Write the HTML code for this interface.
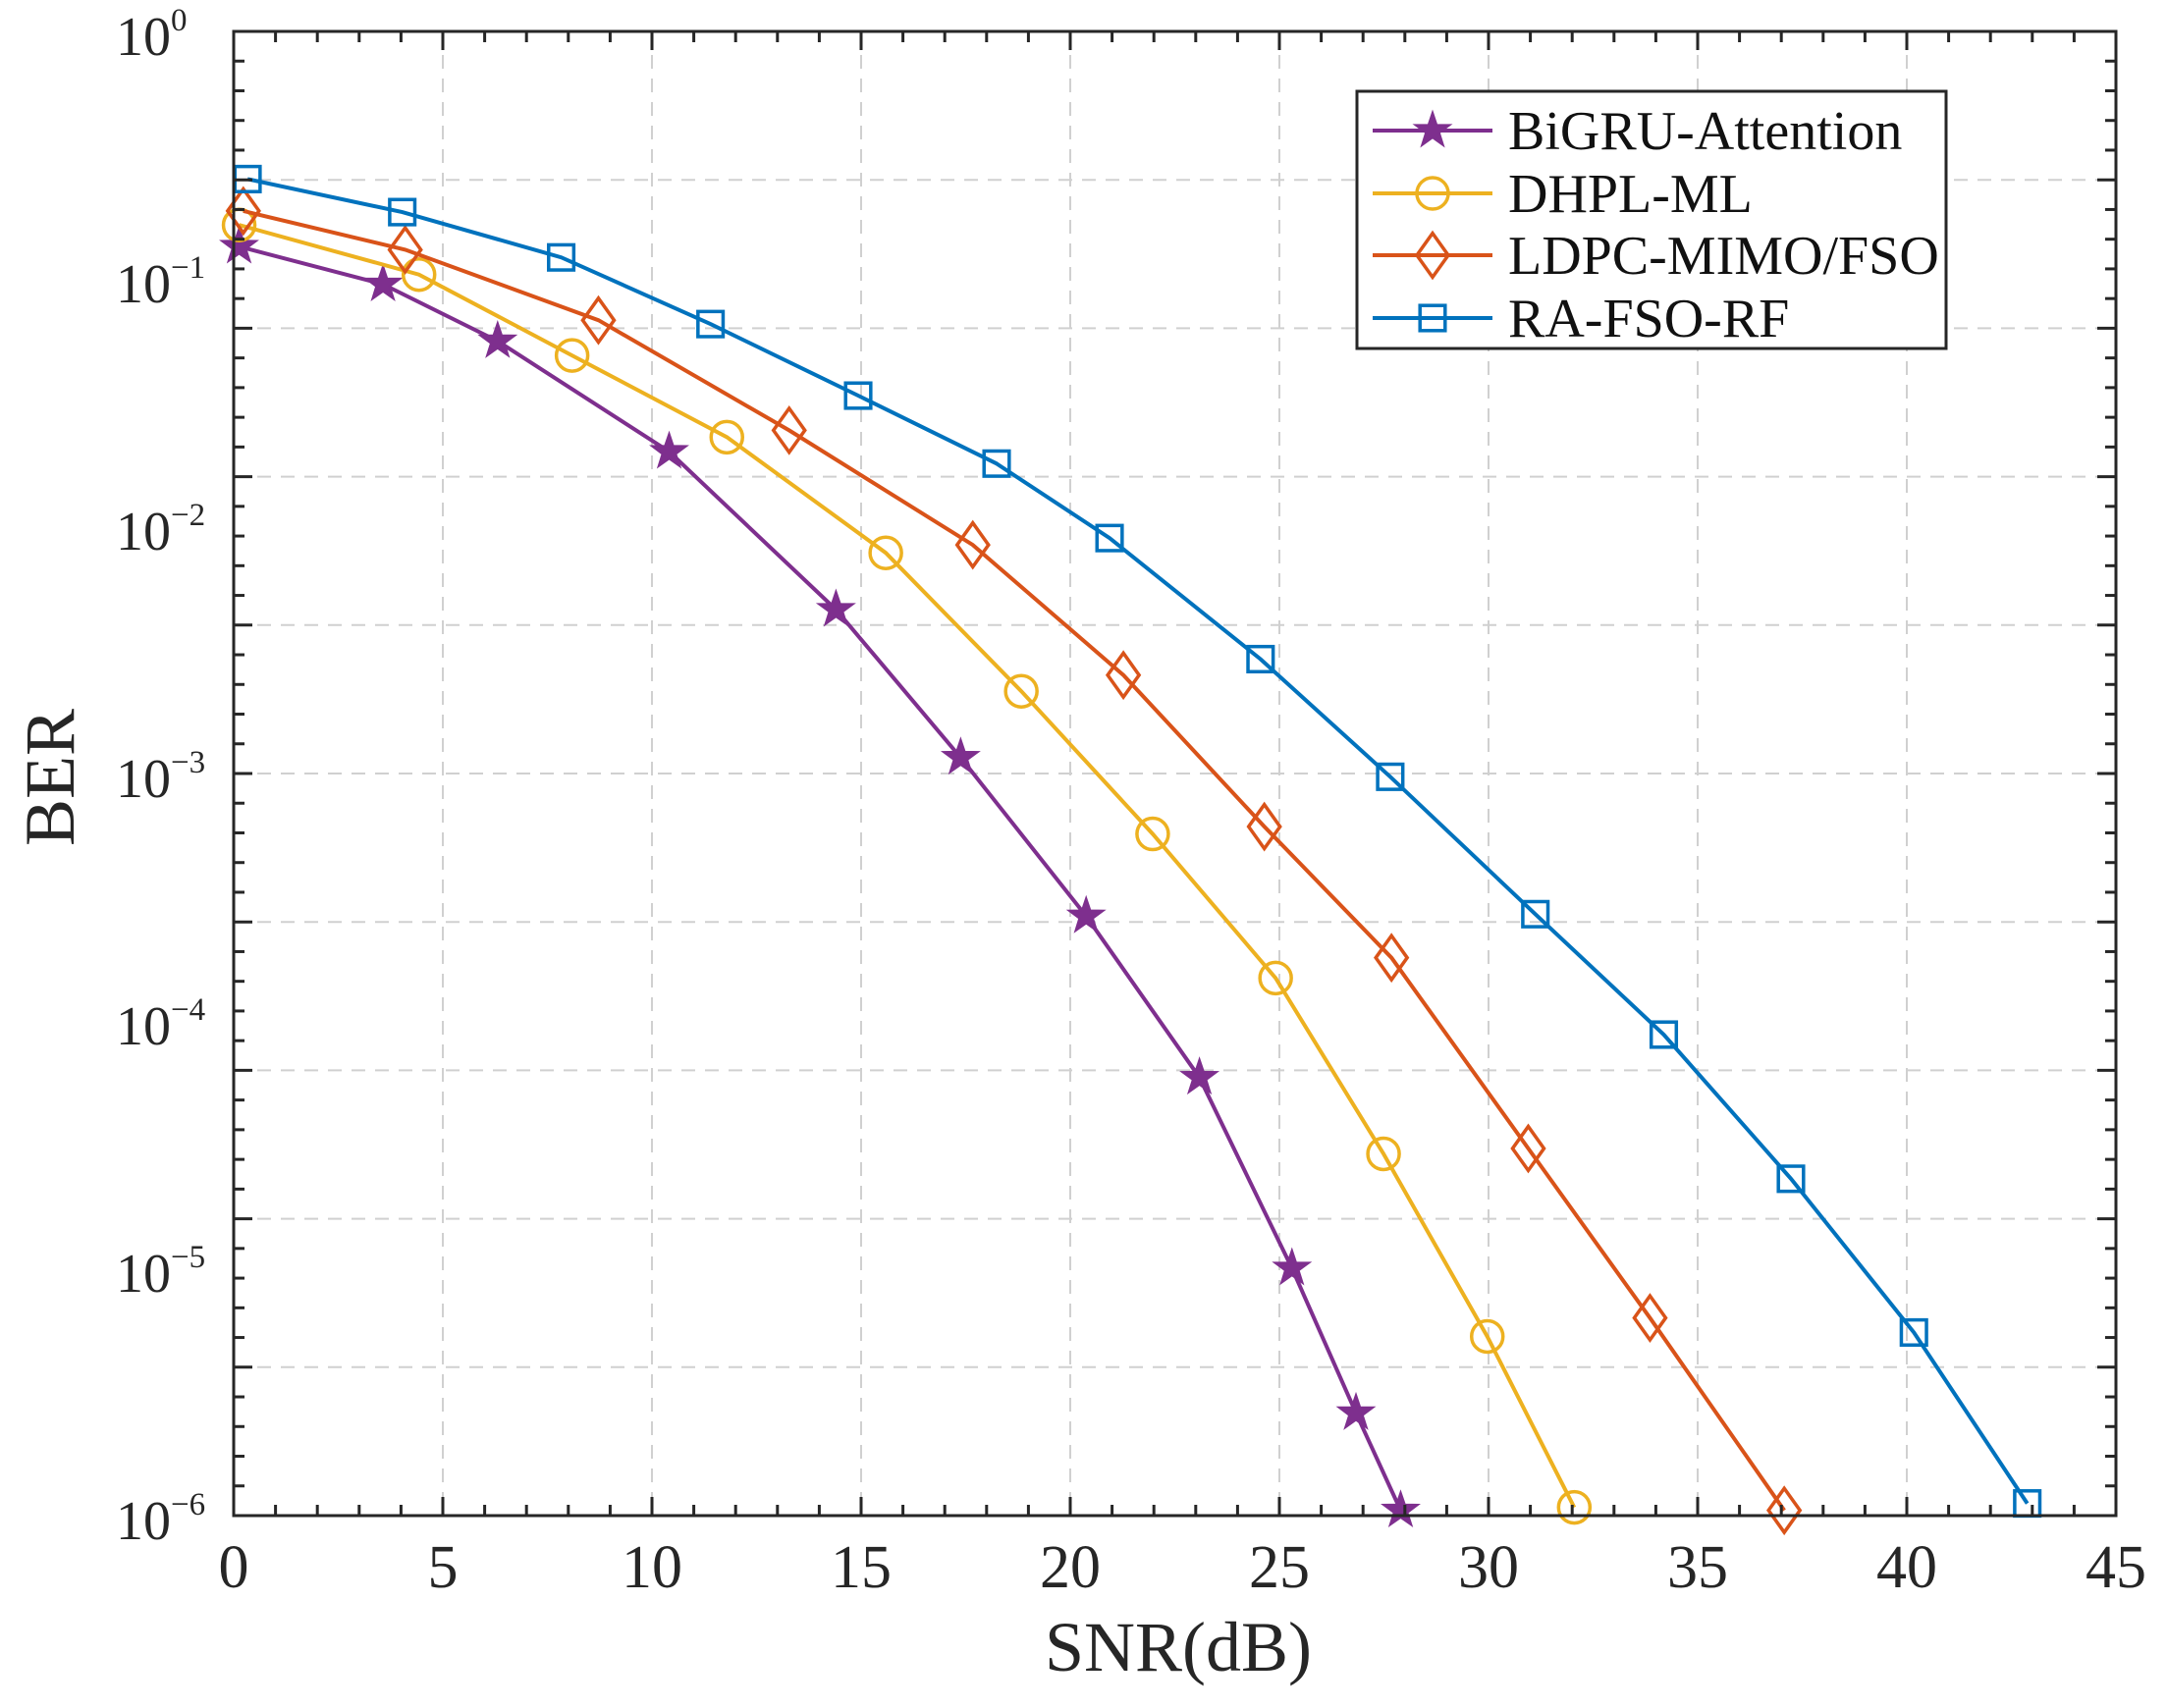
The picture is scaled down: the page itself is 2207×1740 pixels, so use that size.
<!DOCTYPE html>
<html><head><meta charset="utf-8"><style>
html,body{margin:0;padding:0;background:#fff}
svg{display:block;font-family:"Liberation Serif",serif}
</style></head><body>
<svg id="chart" width="2207" height="1740" viewBox="0 0 2207 1740" xmlns="http://www.w3.org/2000/svg">
<rect width="2207" height="1740" fill="#fff"/>
<g id="grid"></g><g id="series"></g><g id="axes"></g><g id="legend"></g>
</svg>
<script>
const seriesNames = ["BiGRU-Attention","DHPL-ML","LDPC-MIMO/FSO","RA-FSO-RF"];
const bigruX = [0.13,3.57,6.31,10.41,14.4,17.38,20.38,23.09,25.3,26.83,27.9];
const bigruY = [0.135,0.095,0.056,0.020,0.0046,1.16e-3,2.65e-4,5.9e-5,1.0e-5,2.6e-6,1.05e-6];
const dhplX = [0.13,4.43,8.09,11.79,15.59,18.83,21.97,24.91,27.49,29.97,32.05];
const dhplY = [0.165,0.104,0.049,0.0229,7.8e-3,2.15e-3,5.7e-4,1.49e-4,2.9e-5,5.3e-6,1.08e-6];
const ldpcX = [0.23,4.1,8.72,13.28,17.67,21.27,24.64,27.68,30.95,33.86,37.07];
const ldpcY = [0.188,0.131,0.068,0.0244,8.4e-3,2.5e-3,6.1e-4,1.8e-4,3.05e-5,6.3e-6,1.05e-6];
const raX = [0.33,4.03,7.83,11.4,14.93,18.24,20.94,24.55,27.65,31.12,34.19,37.23,40.17,42.88];
const raY = [0.253,0.186,0.122,0.0656,0.0337,0.0179,8.95e-3,2.9e-3,9.7e-4,2.7e-4,8.8e-5,2.3e-5,5.5e-6,1.12e-6];
const xTicks = [0,5,10,15,20,25,30,35,40,45];
const yTickExps = [0,-1,-2,-3,-4,-5,-6];

const NS="http://www.w3.org/2000/svg";
const L=238,R=2155,T=32,B=1544;
const xs=v=>L+(v/45)*(R-L);
const ys=v=>T+(-Math.log10(v)/6)*(B-T);
function mk(tag,attrs,parent){const e=document.createElementNS(NS,tag);for(const k in attrs)e.setAttribute(k,attrs[k]);parent.appendChild(e);return e;}
const grid=document.getElementById('grid'),axes=document.getElementById('axes'),ser=document.getElementById('series'),leg=document.getElementById('legend');

xTicks.forEach(t=>{if(t>0&&t<45){const g=mk('line',{x1:xs(t),x2:xs(t),y1:T,y2:B,stroke:'#d0d0d0','stroke-width':2,'stroke-dasharray':'14,10'},grid);

}});
for(let i=1;i<10;i++){const y=T+i*(B-T)/10;const g=mk('line',{x1:L,x2:R,y1:y,y2:y,stroke:'#d0d0d0','stroke-width':2,'stroke-dasharray':'14,10'},grid);

}

const box=mk('rect',{x:L,y:T,width:R-L,height:B-T,fill:'none',stroke:'#262626','stroke-width':3},axes);


for(let v=0;v<=45;v++){const len=(v%5===0)?19:11;const x=xs(v);
mk('line',{x1:x,x2:x,y1:B,y2:B-len,stroke:'#262626','stroke-width':3},axes);
mk('line',{x1:x,x2:x,y1:T,y2:T+len,stroke:'#262626','stroke-width':3},axes);}
xTicks.forEach(t=>{const tx=mk('text',{x:xs(t),y:B+73,'text-anchor':'middle','font-size':62,fill:'#262626'},axes);tx.textContent=t;

});
for(let i=0;i<=50;i++){const y=T+i*(B-T)/50;const len=(i%5===0)?19:11;
mk('line',{x1:L,x2:L+len,y1:y,y2:y,stroke:'#262626','stroke-width':3},axes);
mk('line',{x1:R,x2:R-len,y1:y,y2:y,stroke:'#262626','stroke-width':3},axes);}
yTickExps.forEach(e=>{const y=ys(Math.pow(10,e));const tx=mk('text',{x:118,y:y+24,'font-size':56,fill:'#262626'},axes);


const a=mk('tspan',{},tx);a.textContent='10';const b=mk('tspan',{dy:-25,'font-size':33},tx);b.textContent=e===0?'0':'\u2212'+(-e);});
const xl=mk('text',{x:1200,y:1702,'text-anchor':'middle','font-size':72,fill:'#262626'},axes);xl.textContent='SNR(dB)';


const yl=mk('text',{x:0,y:0,'text-anchor':'middle','font-size':72,fill:'#262626',transform:'translate(75,792) rotate(-90)'},axes);yl.textContent='BER';



function marker(kind,x,y,color,parent){
 const s=16;
 if(kind==='star'){let p=[];for(let i=0;i<10;i++){const r=i%2?s*0.45:s*1.15;const a=-Math.PI/2+i*Math.PI/5;p.push((x+r*Math.cos(a)).toFixed(1)+','+(y+r*Math.sin(a)).toFixed(1));}
  return mk('polygon',{points:p.join(' '),fill:color,stroke:color,'stroke-width':2},parent);}
 if(kind==='circle')return mk('circle',{cx:x,cy:y,r:s,fill:'none',stroke:color,'stroke-width':3.5},parent);
 if(kind==='diamond')return mk('polygon',{points:`${x},${y-s*1.4} ${x+s},${y} ${x},${y+s*1.4} ${x-s},${y}`,fill:'none',stroke:color,'stroke-width':3.5},parent);
 return mk('rect',{x:x-s*0.8,y:y-s*0.8,width:s*1.6,height:s*1.6,fill:'none',stroke:color,'stroke-width':3.5},parent);
}
const defs=[[bigruX,bigruY,'#7E2F8E','star','bigru'],[dhplX,dhplY,'#EDB120','circle','dhpl'],[ldpcX,ldpcY,'#D95319','diamond','ldpc'],[raX,raY,'#0072BD','square','ra']];
defs.forEach(([X,Y,c,k,n])=>{
 const pts=X.map((v,i)=>xs(v).toFixed(1)+','+ys(Y[i]).toFixed(1)).join(' ');
 const pl=mk('polyline',{points:pts,fill:'none',stroke:c,'stroke-width':4},ser);
 
 
 X.forEach((v,i)=>{const m=marker(k,xs(v),ys(Y[i]),c,ser);
 
 });
});
const lb=mk('rect',{x:1382,y:93,width:600,height:262,fill:'#fff',stroke:'#262626','stroke-width':3},leg);


const ly=[133,197,260,324];
defs.forEach(([X,Y,c,k,n],i)=>{
 const g=mk('g',{},leg);
 
 
 mk('line',{x1:1398,x2:1520,y1:ly[i],y2:ly[i],stroke:c,'stroke-width':4},g);
 marker(k,1459,ly[i],c,g);
 const t=mk('text',{x:1536,y:ly[i]+19,'font-size':56,fill:'#111'},g);t.textContent=seriesNames[i];
});
</script>
</body></html>
